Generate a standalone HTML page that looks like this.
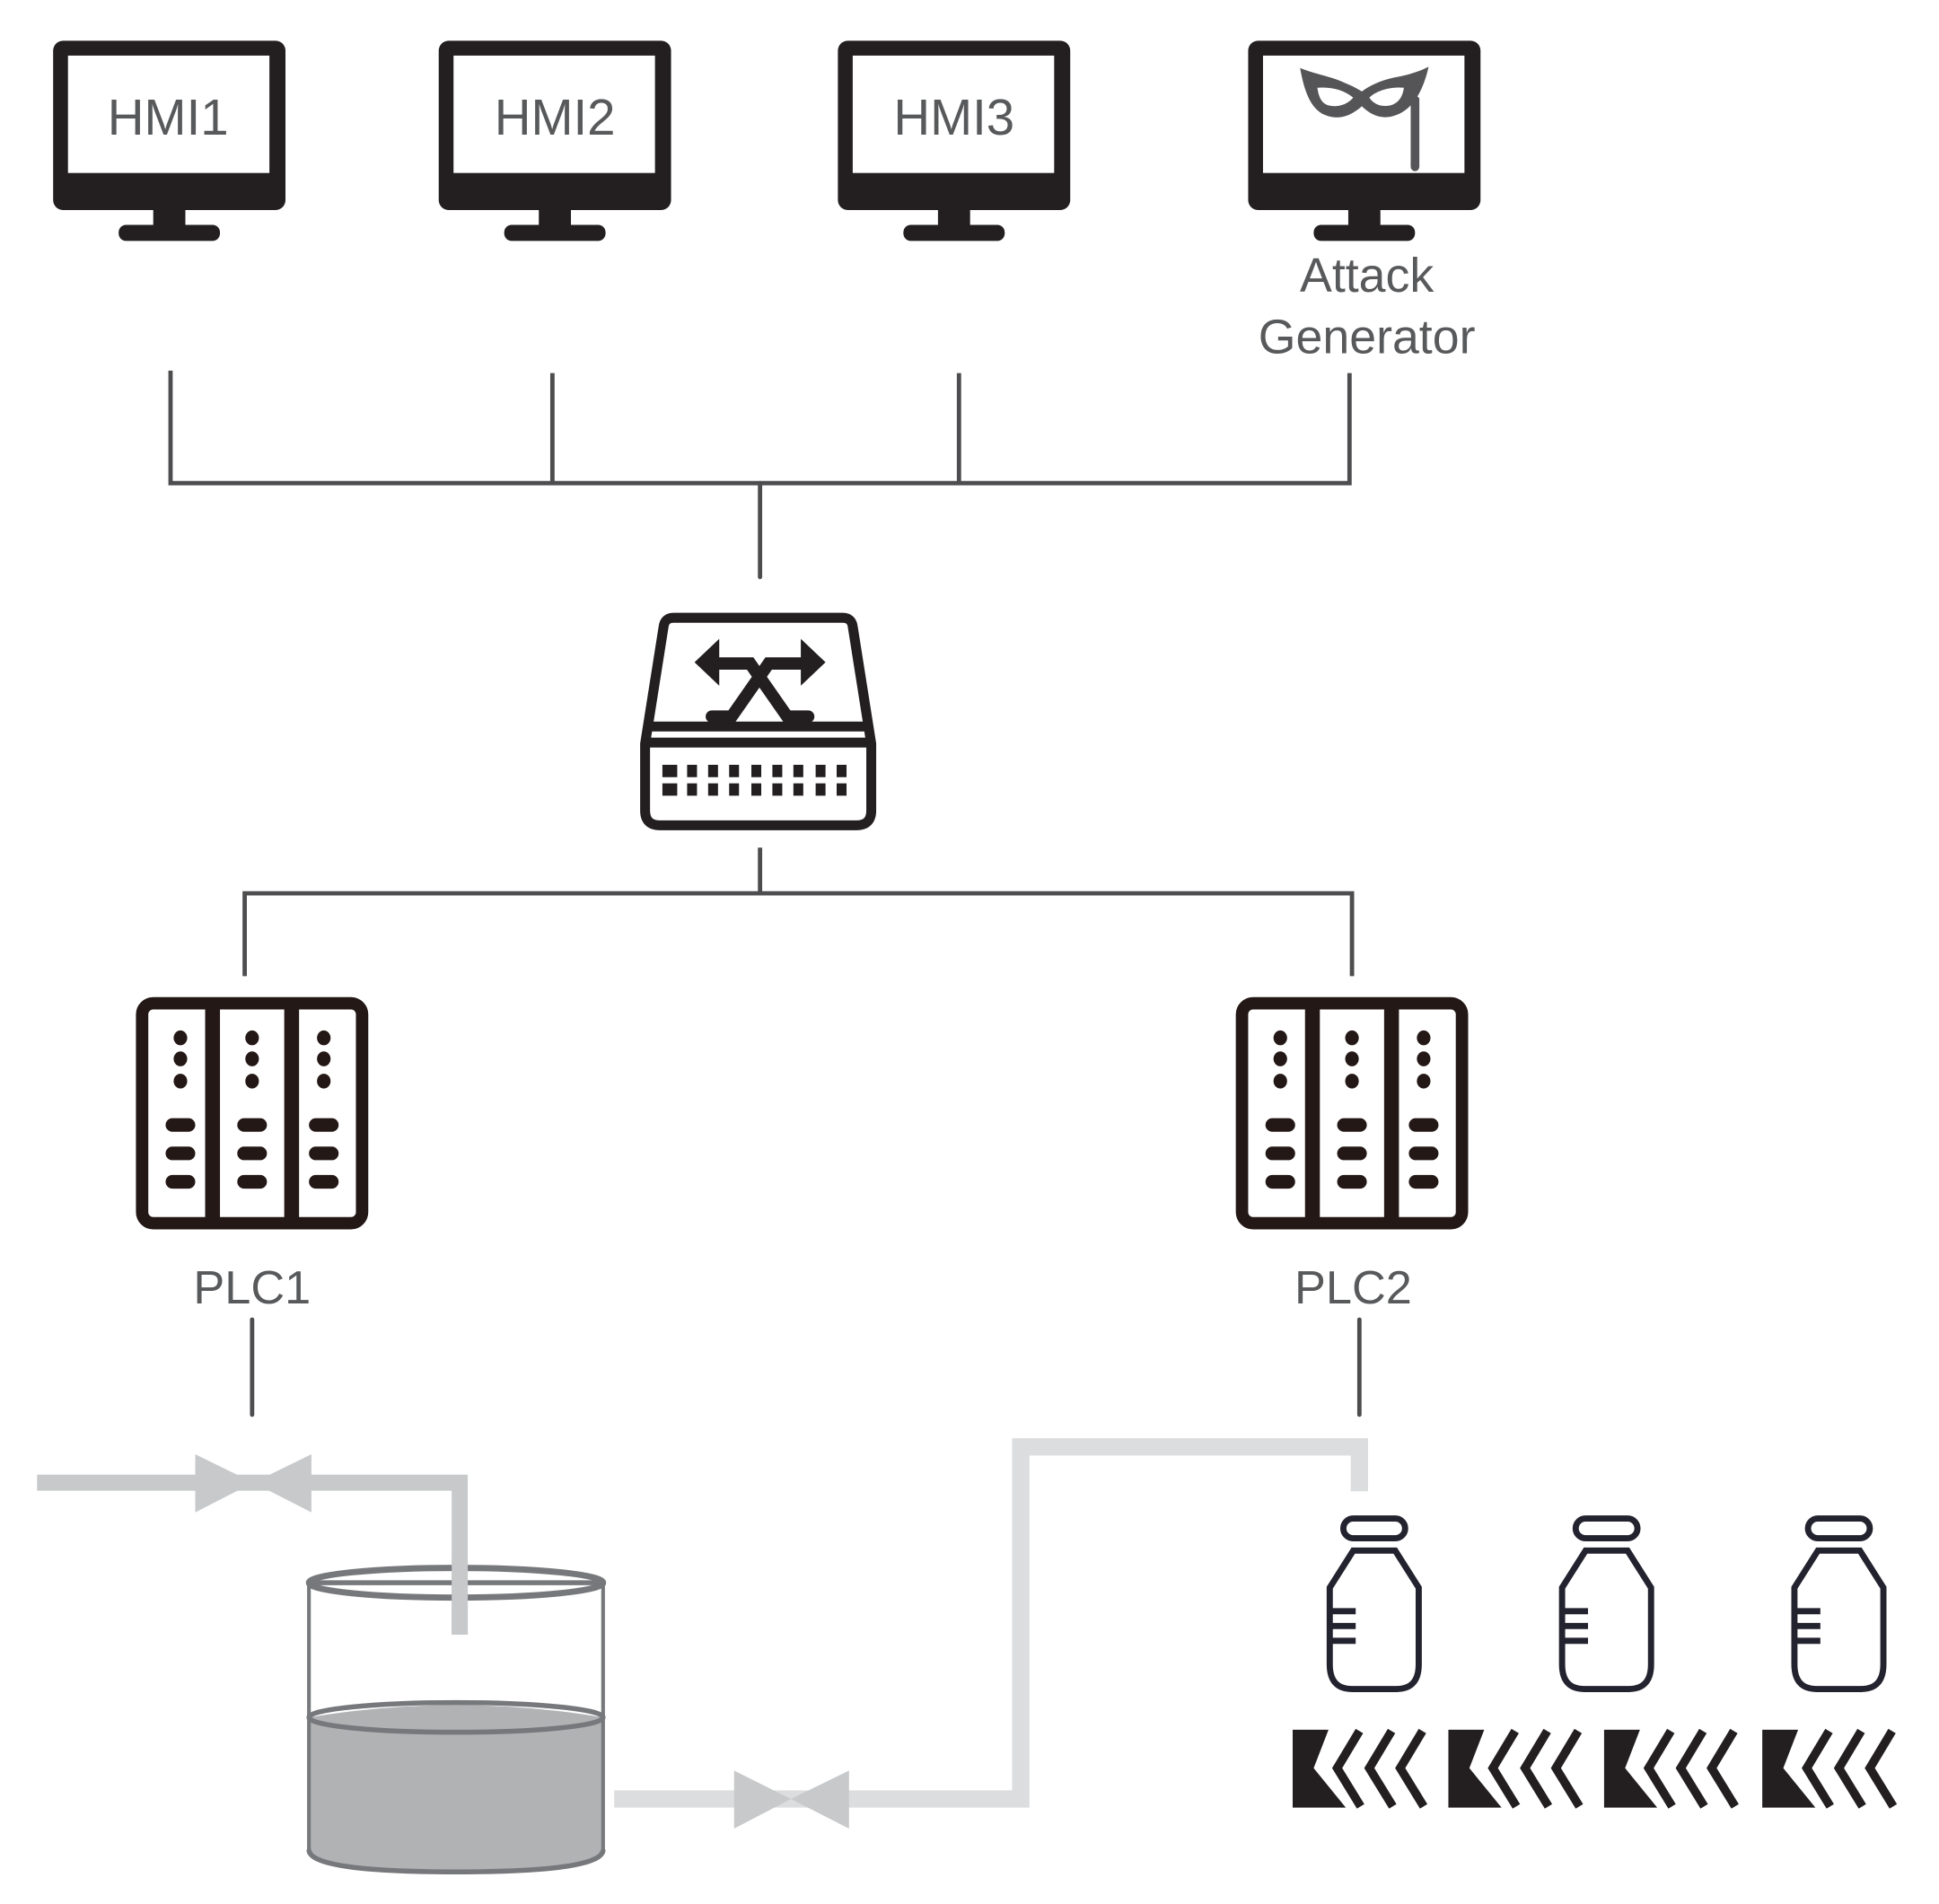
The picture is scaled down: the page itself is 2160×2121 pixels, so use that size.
<!DOCTYPE html>
<html><head><meta charset="utf-8"><style>
html,body{margin:0;padding:0;background:#fff;}
svg{display:block;}
text{font-family:"Liberation Sans",Arial,sans-serif;fill:#58595b;}
</style></head><body>
<svg width="2160" height="2121" viewBox="0 0 1569 1541" preserveAspectRatio="none" xmlns="http://www.w3.org/2000/svg">
<defs>
<g id="mon">
<rect x="0" y="0" width="188" height="137" rx="8" fill="#231f20"/>
<rect x="12" y="12" width="163" height="95" fill="#fff"/>
<rect x="81" y="135" width="26" height="15" fill="#231f20"/>
<rect x="53" y="149" width="82" height="13" rx="6" fill="#231f20"/>
</g>
<g id="plc">
<rect x="5" y="5" width="178" height="178" rx="9" fill="#fff" stroke="#231815" stroke-width="10"/>
<rect x="56" y="8" width="12" height="175" fill="#231815"/>
<rect x="120" y="8" width="12" height="175" fill="#231815"/>
<g fill="#231815">
<ellipse cx="36" cy="33" rx="5.5" ry="6"/><ellipse cx="36" cy="50" rx="5.5" ry="6"/><ellipse cx="36" cy="68" rx="5.5" ry="6"/>
<ellipse cx="94" cy="33" rx="5.5" ry="6"/><ellipse cx="94" cy="50" rx="5.5" ry="6"/><ellipse cx="94" cy="68" rx="5.5" ry="6"/>
<ellipse cx="152" cy="33" rx="5.5" ry="6"/><ellipse cx="152" cy="50" rx="5.5" ry="6"/><ellipse cx="152" cy="68" rx="5.5" ry="6"/>
<rect x="24" y="98" width="24" height="11" rx="5.5"/><rect x="24" y="121" width="24" height="11" rx="5.5"/><rect x="24" y="144" width="24" height="11" rx="5.5"/>
<rect x="82" y="98" width="24" height="11" rx="5.5"/><rect x="82" y="121" width="24" height="11" rx="5.5"/><rect x="82" y="144" width="24" height="11" rx="5.5"/>
<rect x="140" y="98" width="24" height="11" rx="5.5"/><rect x="140" y="121" width="24" height="11" rx="5.5"/><rect x="140" y="144" width="24" height="11" rx="5.5"/>
</g>
</g>
<g id="bottle" fill="none" stroke="#23222f" stroke-width="5">
<rect x="-25" y="0" width="50" height="16" rx="8"/>
<path d="M-17,26 L17,26 L36,56 L36,118 Q36,138 18,138 L-18,138 Q-36,138 -36,118 L-36,56 Z"/>
<path d="M-34,75 H-15 M-34,87 H-15 M-34,99 H-15" stroke-width="5"/>
</g>
<g id="conv" fill="#231f20">
<polygon points="0,0 29,0 17,31 43,63 0,63"/>
<polyline points="54,1 36,31 55,62" fill="none" stroke="#231f20" stroke-width="7"/>
<polyline points="80,1 62,31 81,62" fill="none" stroke="#231f20" stroke-width="7"/>
<polyline points="105,1 87,31 106,62" fill="none" stroke="#231f20" stroke-width="7"/>
</g>
</defs>

<use href="#mon" x="43" y="33"/>
<use href="#mon" x="355" y="33"/>
<use href="#mon" x="678" y="33"/>
<use href="#mon" x="1010" y="33"/>
<text x="136" y="109" font-size="41" text-anchor="middle">HMI1</text>
<text x="449" y="109" font-size="41" text-anchor="middle">HMI2</text>
<text x="772" y="109" font-size="41" text-anchor="middle">HMI3</text>
<path fill="#555558" fill-rule="evenodd" d="M1052,55 C1064,60 1078,62 1088,67 C1093,69 1097,71 1102,74 C1110,68 1120,64 1132,62 C1142,60 1150,57 1156,54 C1152,72 1144,88 1130,93 C1118,98 1108,92 1102,86 C1094,93 1084,98 1072,93 C1060,88 1055,72 1052,55 Z M1066,71 C1077,70 1088,73 1095,79 C1089,86 1080,87 1074,85 C1069,83 1067,78 1066,71 Z M1108,79 C1114,73 1126,70 1136,71 C1135,78 1132,83 1126,85 C1119,87 1112,85 1108,79 Z"/>
<path d="M1141,77 L1145,81 L1145,135" stroke="#555558" stroke-width="7" fill="none" stroke-linecap="round"/>
<text x="1106" y="236" font-size="39" text-anchor="middle">Attack</text>
<text x="1106" y="286" font-size="39" text-anchor="middle">Generator</text>

<g stroke="#4d4d4f" stroke-width="3.5" fill="none">
<polyline points="138,300 138,391 1092,391 1092,302"/>
<line x1="447" y1="302" x2="447" y2="392"/>
<line x1="776" y1="302" x2="776" y2="392"/>
<line x1="615" y1="391" x2="615" y2="467" stroke-linecap="round"/>
<line x1="615" y1="686" x2="615" y2="723"/>
<polyline points="198,790 198,723 1094,723 1094,790"/>
<line x1="204" y1="1068" x2="204" y2="1145" stroke-linecap="round"/>
<line x1="1100" y1="1068" x2="1100" y2="1145" stroke-linecap="round"/>
</g>

<path d="M545,500 L682,500 Q689,500 690,507 L705,602 L705,656 Q705,668 693,668 L534,668 Q522,668 522,656 L522,602 L537,507 Q538,500 545,500 Z" fill="#fff" stroke="#231f20" stroke-width="8"/>
<rect x="524" y="584" width="180" height="8" fill="#231f20"/>
<rect x="524" y="597" width="180" height="8" fill="#231f20"/>
<g fill="#231f20">
<rect x="536" y="619" width="12" height="10"/><rect x="536" y="634" width="12" height="10"/>
<rect x="556" y="619" width="8" height="10"/><rect x="573" y="619" width="8" height="10"/><rect x="590" y="619" width="8" height="10"/><rect x="608" y="619" width="8" height="10"/><rect x="625" y="619" width="8" height="10"/><rect x="642" y="619" width="8" height="10"/><rect x="660" y="619" width="8" height="10"/><rect x="677" y="619" width="8" height="10"/>
<rect x="556" y="634" width="8" height="10"/><rect x="573" y="634" width="8" height="10"/><rect x="590" y="634" width="8" height="10"/><rect x="608" y="634" width="8" height="10"/><rect x="625" y="634" width="8" height="10"/><rect x="642" y="634" width="8" height="10"/><rect x="660" y="634" width="8" height="10"/><rect x="677" y="634" width="8" height="10"/>
<polygon points="562,536 582,517 582,555"/>
<polygon points="668,536 648,517 648,555"/>
</g>
<g stroke="#231f20" stroke-width="10" fill="none" stroke-linecap="round">
<path d="M576,580 L592,580 L622,537 L652,537"/>
<path d="M654,580 L637,580 L607,537 L578,537"/>
</g>

<use href="#plc" x="110" y="807"/>
<use href="#plc" x="1000" y="807"/>
<text x="204" y="1055" font-size="38" text-anchor="middle">PLC1</text>
<text x="1095" y="1055" font-size="38" text-anchor="middle">PLC2</text>

<polyline points="30,1200 372,1200 372,1323" fill="none" stroke="#c8c9cb" stroke-width="13"/>
<polygon points="158,1177 205,1200 158,1224" fill="#c8c9cb"/>
<polygon points="252,1177 205,1200 252,1224" fill="#c8c9cb"/>

<path d="M250,1390 Q369,1370 488,1390 L488,1497 Q488,1515 369,1515 Q250,1515 250,1497 Z" fill="#b1b2b4"/>
<g stroke="#77787b" fill="none">
<ellipse cx="369" cy="1390" rx="119" ry="12" stroke-width="4"/>
<line x1="250" y1="1280" x2="250" y2="1500" stroke-width="3"/>
<line x1="488" y1="1280" x2="488" y2="1500" stroke-width="3"/>
<path d="M250,1497 Q250,1515 369,1515 Q488,1515 488,1497" stroke-width="4"/>
<ellipse cx="369" cy="1281" rx="119" ry="12" stroke-width="5"/>
<line x1="250" y1="1281" x2="488" y2="1281" stroke-width="4"/>
</g>
<line x1="372" y1="1262" x2="372" y2="1323" stroke="#c8c9cb" stroke-width="13"/>

<polyline points="497,1456 826,1456 826,1171 1100,1171 1100,1207" fill="none" stroke="#dcddde" stroke-width="14"/>
<polygon points="594,1433 640,1456 594,1480" fill="#c8c9cb"/>
<polygon points="687,1433 640,1456 687,1480" fill="#c8c9cb"/>

<use href="#bottle" x="1112" y="1229"/>
<use href="#bottle" x="1300" y="1229"/>
<use href="#bottle" x="1488" y="1229"/>

<use href="#conv" x="1046" y="1400"/>
<use href="#conv" x="1172" y="1400"/>
<use href="#conv" x="1298" y="1400"/>
<use href="#conv" x="1426" y="1400"/>
</svg>
</body></html>
